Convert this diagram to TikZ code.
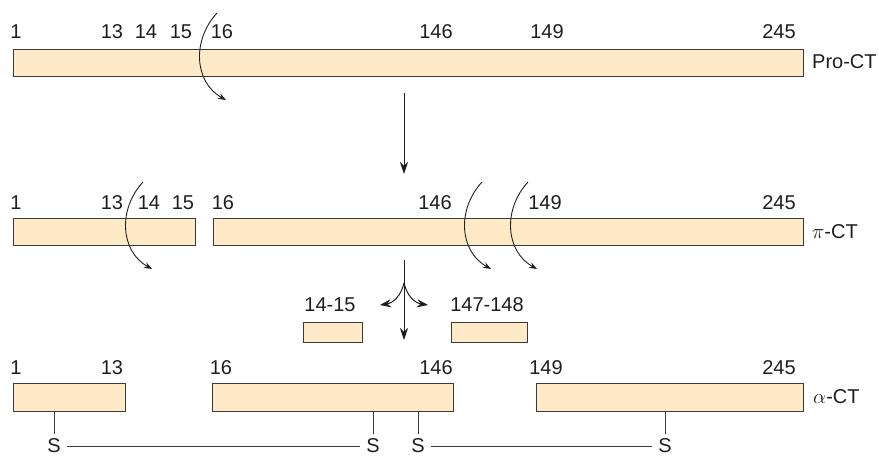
\documentclass[tikz,border=0pt]{standalone}
\usepackage{fontspec}
\setmainfont{Liberation Sans}
\usetikzlibrary{arrows.meta}
\definecolor{barfill}{HTML}{FFE9C6}
\definecolor{barline}{HTML}{3A3A3A}
\definecolor{txt}{HTML}{1E1E1E}
\begin{document}
\begin{tikzpicture}[x=1pt,y=-1pt,
  bar/.style={draw=barline, fill=barfill, line width=1pt, anchor=north west, inner sep=0pt, minimum height=27pt},
  num/.style={font=\fontsize{20}{24}\selectfont, inner sep=0pt, text=txt},
  snode/.style={font=\fontsize{20}{24}\selectfont, inner xsep=6pt, inner ysep=0pt, text=txt},
  stem/.style={draw=barline, line width=0.9pt},
  mainarrow/.style={draw=txt, line width=1pt, -{Stealth[length=12pt,width=8pt]}},
  cleave/.pic={\draw[txt, line width=0.9pt, -{Stealth[length=8pt,width=6pt]}] (0,0) .. controls (-25,27) and (-23,69) .. (9,87);}
]
\useasboundingbox (0,0) rectangle (879,456);

% Row 1: Pro-CT
\node[bar, minimum width=790pt] (pro) at (13,49) {};
\foreach \n/\x/\t in {a/16/1, b/112/13, c/146/14, d/181/15, e/222/16, f/436/146, g/547/149, h/779/245}
  \node[num] (r1\n) at (\x,32) {\t};
\node[num, anchor=west] (lpro) at (812,62) {Pro-CT};
\pic at (217,13) {cleave};

\coordinate (d1s) at (404,93);
\coordinate (d1e) at (404,174);
\draw[mainarrow] (d1s) -- (d1e);

% Row 2: pi-CT
\node[bar, minimum width=182pt] (pia) at (13,218) {};
\node[bar, minimum width=590pt] (pib) at (213,218) {};
\foreach \n/\x/\t in {a/16/1, b/112/13, c/149/14, d/183/15, e/223/16, f/435/146, g/545/149, h/779/245}
  \node[num] (r2\n) at (\x,203) {\t};
\node[num, anchor=west] (lpi) at (812,232) {$\pi$-CT};
\pic at (143,182) {cleave};
\pic at (482,182) {cleave};
\pic at (528,182) {cleave};

\coordinate (d2s) at (404,260);
\coordinate (br) at (404,283);
\coordinate (d2e) at (404,340);
\coordinate (bl) at (380,305);
\coordinate (bR) at (428,305);
\draw[mainarrow] (d2s) -- (d2e);
\draw[txt, line width=1pt, -{Stealth[length=11pt,width=8pt]}] (br) .. controls (401,296) and (393,303) .. (bl);
\draw[txt, line width=1pt, -{Stealth[length=11pt,width=8pt]}] (br) .. controls (407,296) and (415,303) .. (bR);

% Released peptides
\node[num] (f1) at (330,305) {14-15};
\node[num] (f2) at (487,305) {147-148};
\node[bar, minimum width=59pt, minimum height=20pt] (pa) at (303,322) {};
\node[bar, minimum width=76pt, minimum height=20pt] (pb) at (451,322) {};

% Row 3: alpha-CT
\node[bar, minimum width=112pt, minimum height=28pt] (ca) at (13,383) {};
\node[bar, minimum width=241pt, minimum height=28pt] (cb) at (212,383) {};
\node[bar, minimum width=267pt, minimum height=28pt] (cc) at (536,383) {};
\foreach \n/\x/\t in {a/16/1, b/112/13, e/221/16, f/436/146, g/546/149, h/779/245}
  \node[num] (r3\n) at (\x,368) {\t};
\node[num, anchor=west] (lal) at (813,397) {$\alpha$-CT};

% Disulfide bonds
\node[snode] (s1) at (54,446) {S};
\node[snode] (s2) at (373,446) {S};
\node[snode] (s3) at (418,446) {S};
\node[snode] (s4) at (665,446) {S};
\draw[stem] (s1.north |- ca.south) -- ([yshift=5pt]s1.north);
\draw[stem] (s2.north |- cb.south) -- ([yshift=5pt]s2.north);
\draw[stem] (s3.north |- cb.south) -- ([yshift=5pt]s3.north);
\draw[stem] (s4.north |- cc.south) -- ([yshift=5pt]s4.north);
\draw[stem] (s1) -- (s2);
\draw[stem] (s3) -- (s4);
\end{tikzpicture}
\end{document}
